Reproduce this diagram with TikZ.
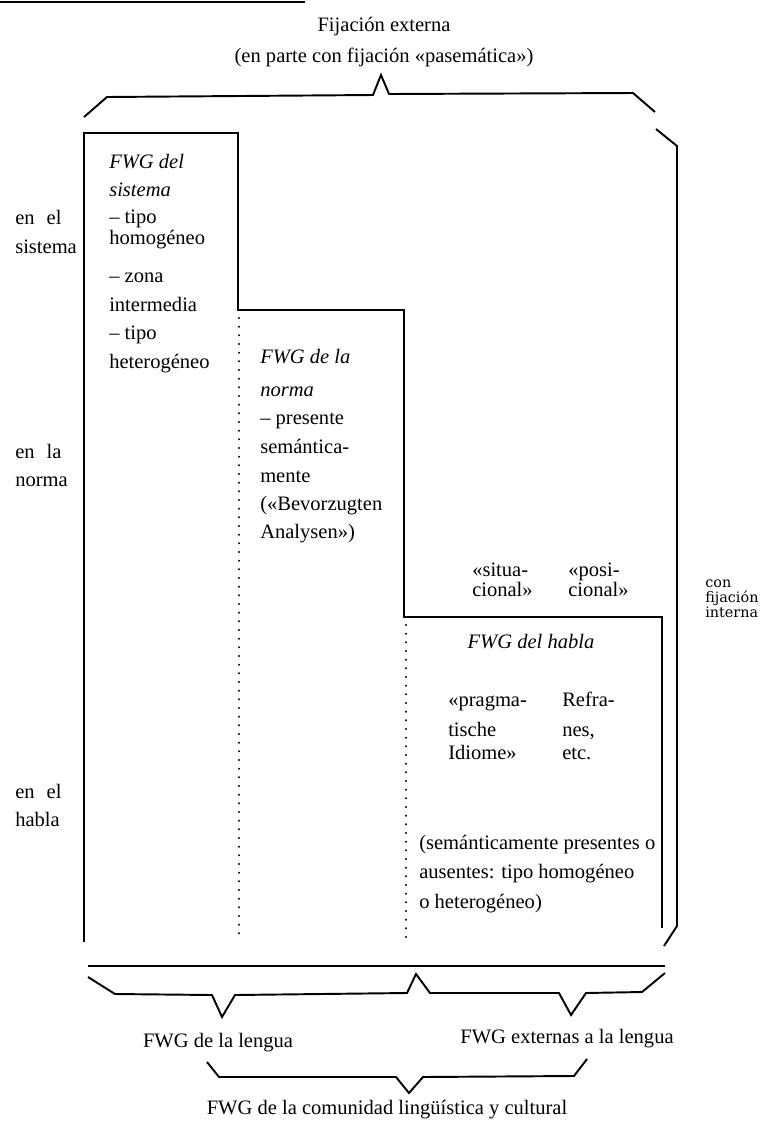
\documentclass[tikz,border=0pt]{standalone}
\usepackage{fontspec}
\setmainfont{Liberation Serif}
\newfontfamily\conffont{DejaVu Serif}
\newcommand\mainfs{\fontsize{15.4}{18}\selectfont}
\begin{document}
\begin{tikzpicture}[x=0.75pt,y=-0.75pt,line join=miter]
\tikzset{
 txt/.style={anchor=base west,inner sep=0pt,font=\mainfs},
 ctxt/.style={anchor=base,inner sep=0pt,font=\mainfs},
 itx/.style={txt,font=\mainfs\itshape},
 sidetxt/.style={anchor=base west,inner sep=0pt,font=\conffont\fontsize{10.8}{12}\selectfont},
 frame/.style={line width=1.3pt},
 brace/.style={line width=1.45pt},
 dotline/.style={line width=1.7pt,line cap=round,dash pattern=on 0pt off 6.5pt}
}
\fill[white] (0,0) rectangle (766,1122);
\useasboundingbox (0,0) rectangle (766,1122);

% page rule at top
\draw[line width=1.5pt] (0,1.5) -- (305,1.5);

% top labels
\node[ctxt] (fe) at (384,31) {Fijación externa};
\node[ctxt] (fp) at (384,62) {(en parte con fijación «pasemática»)};

% top brace
\draw[brace] (84,117) -- (107,97) -- (373,95) -- (381,75) -- (389,94) -- (633,93) -- (655,112);
% right brace
\draw[brace] (656,129) -- (677,146) -- (677,926) -- (664,946);

% stepped frame
\draw[frame] (84,942) -- (84,133) -- (238,133) -- (238,310) -- (404,310) -- (404,617) -- (662,617) -- (662,928);
% dotted separators
\draw[dotline] (239,318) -- (239,938);
\draw[dotline] (406,625) -- (406,938);

% left labels
\node[txt] (l1a) at (15,224) {en\hspace{9pt}el};
\node[txt] (l1b) at (15,253) {sistema};
\node[txt] (l2a) at (15,458) {en\hspace{9pt}la};
\node[txt] (l2b) at (15,486) {norma};
\node[txt] (l3a) at (15,798) {en\hspace{9pt}el};
\node[txt] (l3b) at (15,826) {habla};

% box 1
\node[itx] (s1) at (109,168) {FWG del};
\node[itx] (s2) at (109,196) {sistema};
\node[txt] (s3) at (109,223) {– tipo};
\node[txt] (s4) at (109,244) {homogéneo};
\node[txt] (s5) at (109,282) {– zona};
\node[txt] (s6) at (109,311) {intermedia};
\node[txt] (s7) at (109,339) {– tipo};
\node[txt] (s8) at (109,368) {heterogéneo};

% box 2
\node[itx] (n1) at (260,363) {FWG de la};
\node[itx] (n2) at (260,396) {norma};
\node[txt] (n3) at (260,424) {– presente};
\node[txt] (n4) at (260,453) {semántica-};
\node[txt] (n5) at (260,482) {mente};
\node[txt] (n6) at (260,510) {(«Bevorzugten};
\node[txt] (n7) at (260,538) {Analysen»)};

% situational / positional
\node[txt] (si1) at (472,576) {«situa-};
\node[txt] (si2) at (472,596) {cional»};
\node[txt] (po1) at (568,576) {«posi-};
\node[txt] (po2) at (568,596) {cional»};

% con fijacion interna
\node[sidetxt] (ci1) at (705,587) {con};
\node[sidetxt] (ci2) at (705,602) {fijación};
\node[sidetxt] (ci3) at (705,617) {interna};

% box 3
\node[ctxt,font=\mainfs\itshape] (h0) at (531,648) {FWG del habla};
\node[txt] (p1) at (448,706) {«pragma-};
\node[txt] (p2) at (448,736) {tische};
\node[txt] (p3) at (448,759) {Idiome»};
\node[txt] (r1) at (562,706) {Refra-};
\node[txt] (r2) at (562,736) {nes,};
\node[txt] (r3) at (562,759) {etc.};
\node[txt] (q1) at (419,849) {(semánticamente presentes o};
\node[txt] (q2) at (419,878) {ausentes: tipo homogéneo};
\node[txt] (q3) at (419,908) {o heterogéneo)};

% bottom line and braces
\draw[brace] (88,966) -- (665,966);
\draw[brace] (88,977) -- (115,994) -- (212,995) -- (222,1017) -- (235,995) -- (407,993) -- (416,974) -- (430,993) -- (559,993) -- (571,1015) -- (586,993) -- (642,992) -- (665,973);
\node[ctxt] (bl) at (218,1047) {FWG de la lengua};
\node[ctxt] (be) at (567,1043) {FWG externas a la lengua};
\draw[brace] (207,1062) -- (219,1077) -- (396,1077) -- (409,1093) -- (423,1077) -- (574,1076) -- (587,1059);
\node[ctxt] (bc) at (387,1114) {FWG de la comunidad lingüística y cultural};
\end{tikzpicture}
\end{document}
